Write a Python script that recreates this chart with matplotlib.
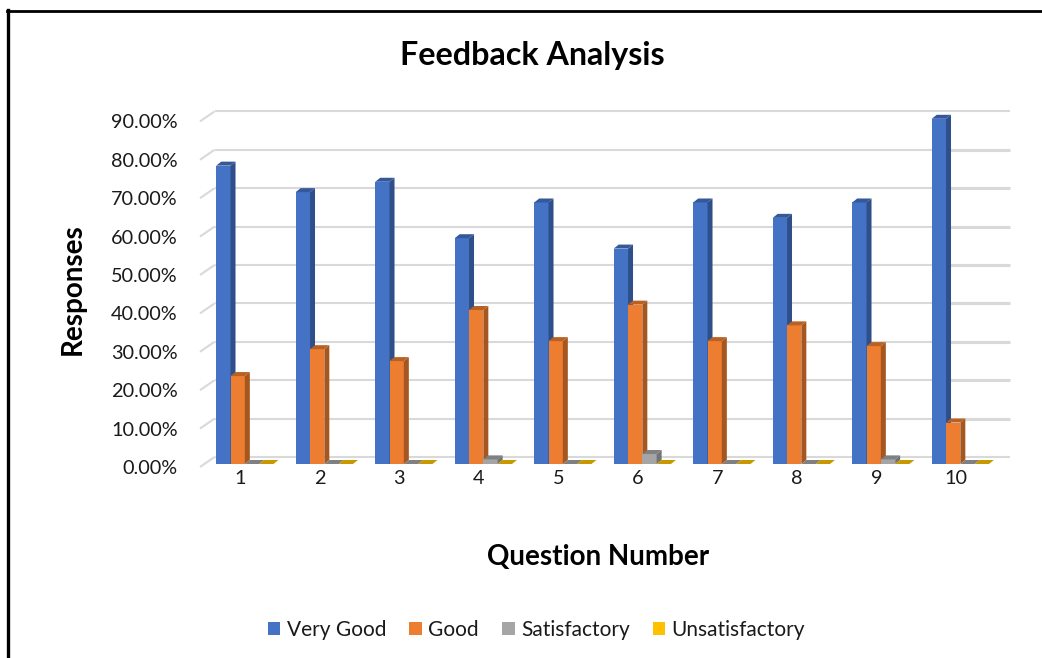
import matplotlib
matplotlib.use('Agg')
import matplotlib.pyplot as plt
from matplotlib.lines import Line2D
from matplotlib.patches import Patch, Polygon
from matplotlib.transforms import Affine2D

questions = [1, 2, 3, 4, 5, 6, 7, 8, 9, 10]
very_good = [77.7, 70.8, 73.5, 58.8, 68.1, 56.1, 68.1, 64.1, 68.1, 89.9]
good = [22.9, 29.9, 26.8, 40.1, 32.0, 41.5, 32.0, 36.1, 30.7, 10.8]
satisfactory = [0, 0, 0, 1.2, 0, 2.6, 0, 0, 1.2, 0]
unsatisfactory = [0, 0, 0, 0, 0, 0, 0, 0, 0, 0]
series_names = ['Very Good', 'Good', 'Satisfactory', 'Unsatisfactory']
y_ticks = [0, 10, 20, 30, 40, 50, 60, 70, 80, 90]
y_labels = ['0.00%', '10.00%', '20.00%', '30.00%', '40.00%', '50.00%', '60.00%', '70.00%', '80.00%', '90.00%']

# front, side and top colour of each series
front_colors = ['#4472c4', '#ed7d31', '#a5a5a5', '#ffc000']
side_colors = ['#2f4f8a', '#a5571f', '#737373', '#b38600']
top_colors = ['#34589a', '#b96125', '#808080', '#c89800']

W, H = 1042, 658
BAR_W = 0.18
DEPTH_X, DEPTH_Y = 5, 4

plt.rcParams['font.family'] = ['Lato', 'DejaVu Sans']

fig = plt.figure(figsize=(W / 100, H / 100), dpi=100)
ax = fig.add_axes([201.5 / W, (H - 464) / H, 795 / W, 345.6 / H])
ax.set_xlim(0.5, 10.5)
ax.set_ylim(0, 90)
for s in ax.spines.values():
    s.set_visible(False)
ax.patch.set_alpha(0)
ax.set_xticks(questions)
ax.set_xticklabels(questions, fontsize=14.3, color='#1a1a1a')
ax.set_yticks(y_ticks)
ax.set_yticklabels(y_labels, fontsize=14.3, color='#1a1a1a')
ax.tick_params(length=0)
ax.tick_params(axis='x', pad=4.5)
ax.tick_params(axis='y', pad=17)
for lab in ax.get_yticklabels():
    lab.set_transform(lab.get_transform() + Affine2D().translate(0, -3))
for lab in ax.get_xticklabels():
    lab.set_transform(lab.get_transform() + Affine2D().translate(-1, 0))


def shifted(px, py):
    return ax.transData + Affine2D().translate(px, py)


# walls: gridlines sit on the back plane, short diagonals on the side wall
for v in y_ticks:
    ax.plot([0.5, 10.5], [v, v], color='#d9d9d9', lw=1.5, transform=shifted(13, 7),
            zorder=1, clip_on=False, solid_capstyle='butt')
    x0, y0 = ax.transData.transform((0.5, v))
    ax.add_patch(Polygon([(x0 - 1.5, y0 - 3), (x0 + 13, y0 + 7)], closed=False, fill=False,
                         edgecolor='#d9d9d9', lw=1.5, transform=None, zorder=1, clip_on=False))
    if 0 < v < 90:
        ax.plot([9.7, 10.5], [v, v], color='#d9d9d9', lw=2.2, transform=shifted(13, 7),
                zorder=1, clip_on=False, solid_capstyle='butt')


def bar3d(x, v, j):
    ax.bar(x, v, BAR_W, align='edge', color=front_colors[j], zorder=3 + j, linewidth=0, clip_on=False)
    (x0, y0), (x1, y1) = ax.transData.transform([(x, 0), (x + BAR_W, v)])
    side = [(x1, y0), (x1 + DEPTH_X, y0 + DEPTH_Y), (x1 + DEPTH_X, y1 + DEPTH_Y), (x1, y1)]
    top = [(x0, y1), (x1, y1), (x1 + DEPTH_X, y1 + DEPTH_Y), (x0 + DEPTH_X, y1 + DEPTH_Y)]
    ax.add_patch(Polygon(side, color=side_colors[j], lw=0, transform=None, zorder=3 + j, clip_on=False))
    ax.add_patch(Polygon(top, color=top_colors[j], lw=0, transform=None, zorder=3 + j, clip_on=False))


for j, vals in enumerate([very_good, good, satisfactory, unsatisfactory]):
    for q, v in zip(questions, vals):
        bar3d(q - 0.315 + j * BAR_W, v, j)

fig.text(532 / W, 1 - 55 / H, 'Feedback Analysis', fontsize=23.2, fontweight='bold',
         ha='center', va='center', color='black')
fig.text(73 / W, 1 - 289 / H, 'Responses', fontsize=20, fontweight='bold', rotation=90,
         ha='center', va='center', color='black')
fig.text(598.5 / W, 1 - 557 / H, 'Question Number', fontsize=20, fontweight='bold',
         ha='center', va='center', color='black')

handles = [Patch(color=c, lw=0) for c in front_colors]
fig.legend(handles, series_names, loc='center', bbox_to_anchor=(536.5 / W, 1 - 630 / H), ncols=4,
           frameon=False, fontsize=15, handlelength=0.6, handleheight=0.6, handletextpad=0.3,
           columnspacing=1.12, labelcolor='#1a1a1a')

# frame of the original picture: only left and top edges are visible
fig.add_artist(Line2D([7.5 / W, 7.5 / W], [0, 1 - 10 / H], color='black', lw=2.4))
fig.add_artist(Line2D([6.5 / W, 1], [1 - 11 / H, 1 - 11 / H], color='black', lw=2))

fig.savefig('out.png', dpi=100)
